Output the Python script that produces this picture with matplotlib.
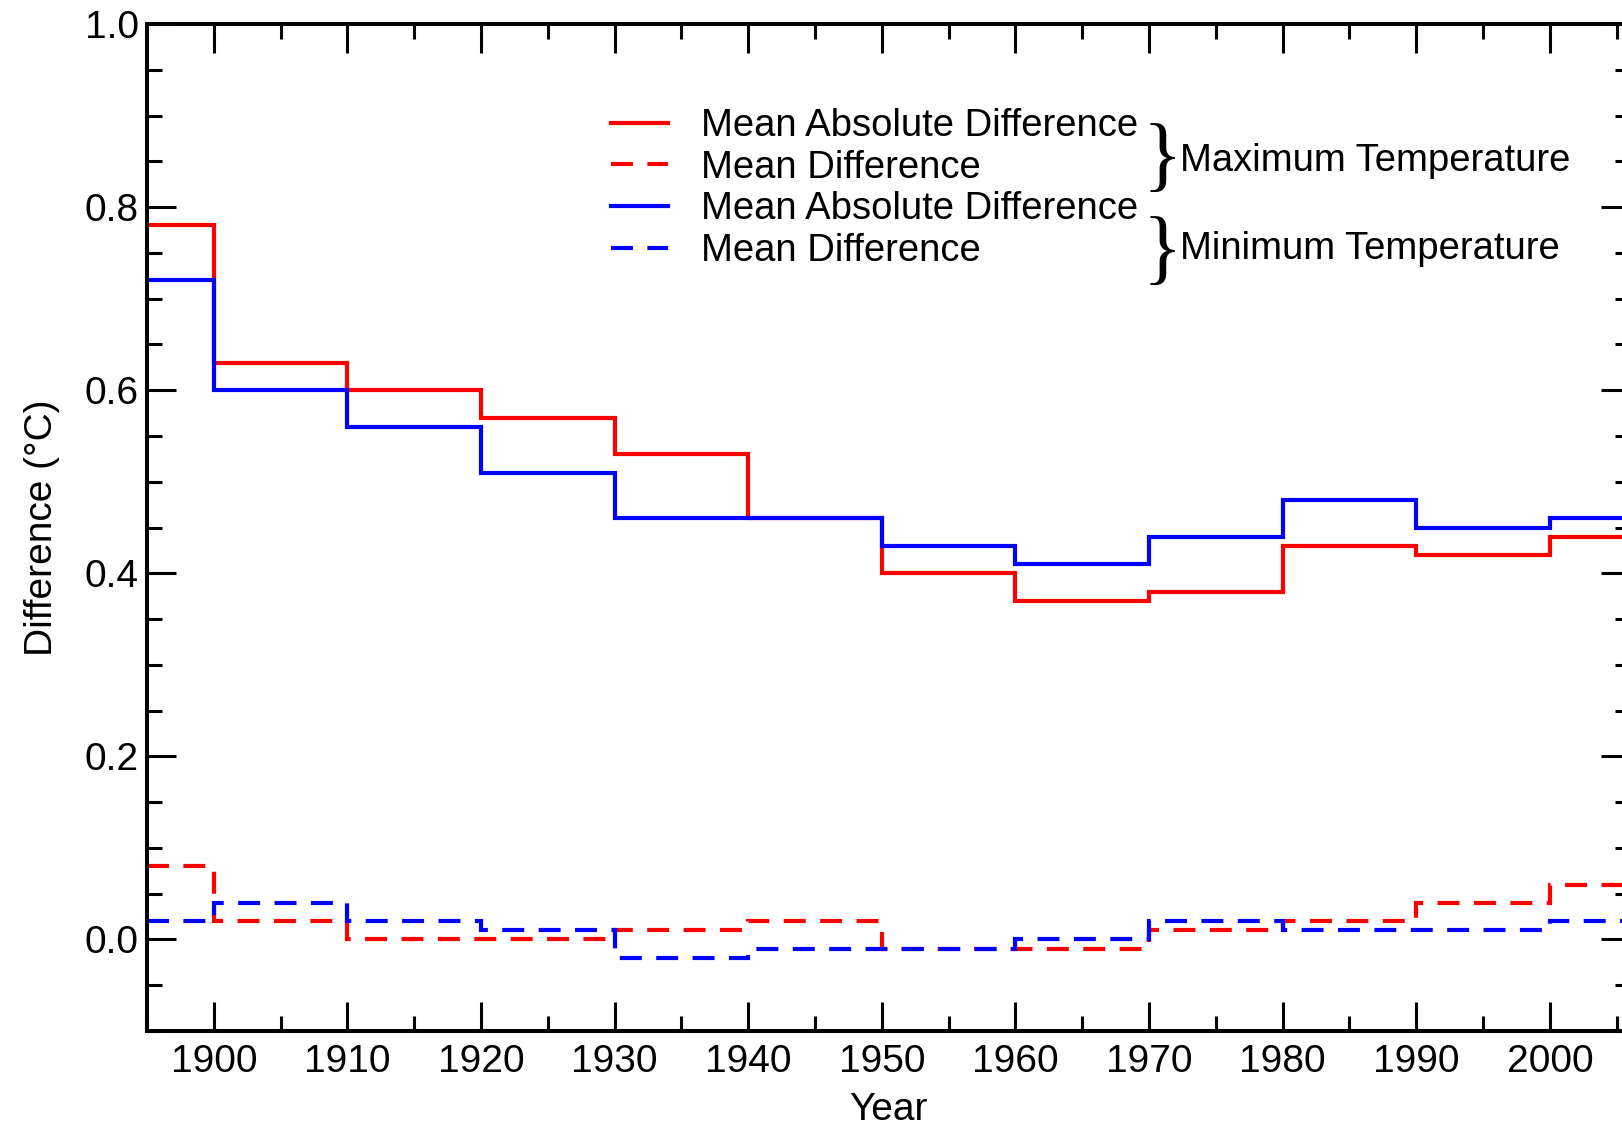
import matplotlib
matplotlib.use("Agg")
import matplotlib.pyplot as plt
from matplotlib.ticker import MultipleLocator

plt.rcParams['font.family'] = ['Liberation Sans', 'DejaVu Sans']
plt.rcParams['lines.scale_dashes'] = False

# decade edges (first bin is the partial 1895-1900 one)
edges = [1895, 1900, 1910, 1920, 1930, 1940, 1950, 1960, 1970, 1980, 1990, 2000, 2010]

tmax_mad = [0.78, 0.63, 0.60, 0.57, 0.53, 0.46, 0.40, 0.37, 0.38, 0.43, 0.42, 0.44]
tmax_md = [0.08, 0.02, 0.00, 0.00, 0.01, 0.02, -0.01, -0.01, 0.01, 0.02, 0.04, 0.06]
tmin_mad = [0.72, 0.60, 0.56, 0.51, 0.46, 0.46, 0.43, 0.41, 0.44, 0.48, 0.45, 0.46]
tmin_md = [0.02, 0.04, 0.02, 0.01, -0.02, -0.01, -0.01, 0.00, 0.02, 0.01, 0.01, 0.02]

W, H = 1622, 1126
fig = plt.figure(figsize=(W / 100, H / 100), dpi=100)
ax = fig.add_axes([147 / W, 1 - 1031 / H, (1630 - 147) / W, (1031 - 24) / H])

dash = (15.8, 10.4)
lw = 3.0
ax.stairs(tmax_mad, edges, baseline=None, color='#ff0000', lw=lw, label='Mean Absolute Difference')
ax.stairs(tmax_md, edges, baseline=None, color='#ff0000', lw=lw, linestyle=(0, dash), label='Mean Difference')
ax.stairs(tmin_mad, edges, baseline=None, color='#0000ff', lw=lw, label='Mean Absolute Difference')
ax.stairs(tmin_md, edges, baseline=None, color='#0000ff', lw=lw, linestyle=(0, dash), label='Mean Difference')

ax.set_xlim(1895, 2006)
ax.set_ylim(-0.1, 1.0)
ax.xaxis.set_major_locator(MultipleLocator(10))
ax.xaxis.set_minor_locator(MultipleLocator(5))
ax.yaxis.set_major_locator(MultipleLocator(0.2))
ax.yaxis.set_minor_locator(MultipleLocator(0.05))
ax.yaxis.set_major_formatter(lambda v, p: f'{v:.1f}')

ax.tick_params(which='both', direction='in', top=True, right=True, width=2.2, labelsize=28)
ax.tick_params(which='major', length=21, pad=9)
ax.tick_params(axis='y', which='major', pad=6)
ax.tick_params(which='minor', length=11)
for s in ax.spines.values():
    s.set_linewidth(2.9)

ax.set_xlabel('Year', fontsize=28, labelpad=9)
ax.set_ylabel('Difference (°C)', fontsize=28)
ax.yaxis.set_label_coords(-0.059, 0.5)

leg = ax.legend(loc='upper left', bbox_to_anchor=(611 / W, 1 - 108 / H), bbox_transform=fig.transFigure,
                frameon=False, fontsize=27.5, handlelength=1.5, handletextpad=0.85,
                labelspacing=0.15, borderpad=0, borderaxespad=0)

# braces grouping the legend rows
fig.text(1162 / W, 1 - 161 / H, '}', fontsize=59, family='Liberation Serif', ha='center', va='center')
fig.text(1162 / W, 1 - 254 / H, '}', fontsize=59, family='Liberation Serif', ha='center', va='center')
fig.text(1180 / W, 1 - 161 / H, 'Maximum Temperature', fontsize=27.5, ha='left', va='center')
fig.text(1180 / W, 1 - 249 / H, 'Minimum Temperature', fontsize=27.5, ha='left', va='center')

fig.savefig('out.png', dpi=100)
